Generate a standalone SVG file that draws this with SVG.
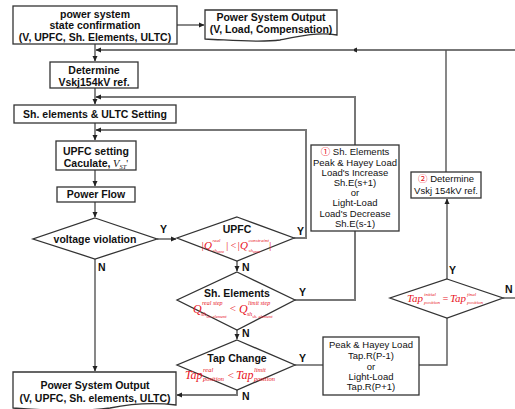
<svg xmlns="http://www.w3.org/2000/svg" width="515" height="409" viewBox="0 0 515 409">
<defs>
<marker id="ah" markerWidth="6" markerHeight="6" refX="5" refY="3" orient="auto" markerUnits="userSpaceOnUse">
<path d="M0,0.5 L5.5,3 L0,5.5 Z" fill="#222"/>
</marker>
<style>
.box{fill:#fff;stroke:#333;stroke-width:1.3}
.t{font-family:"Liberation Sans",Arial,sans-serif;font-size:10.5px;font-weight:bold;fill:#111;text-anchor:middle}
.s{font-family:"Liberation Sans",Arial,sans-serif;font-size:9.5px;fill:#111;text-anchor:middle}
.f{font-family:"Liberation Serif","Times New Roman",serif;font-style:italic;fill:#e8141e}
.c{fill:none;stroke:#555;stroke-width:1.4}
.g{fill:none;stroke:#777;stroke-width:2}
.a{marker-end:url(#ah)}
.yn{font-family:"Liberation Sans",Arial,sans-serif;font-size:10.5px;font-weight:bold;fill:#111}
.red{fill:#e8141e}
</style>
</defs>
<rect width="515" height="409" fill="#fff"/>

<g id="connectors">
<path class="c a" d="M177,25 H204"/>
<path class="c a" d="M95,44 V61"/>
<path class="g a" d="M515,50 H352"/>
<path class="g a" d="M354,50 H96"/>
<path class="c" d="M446,172 V50"/>
<path class="c a" d="M95,88 V104"/>
<path class="g a" d="M355,145 V97 H96"/>
<path class="c a" d="M95,123 V140"/>
<path class="g a" d="M294,238 H306 V130 H96"/>
<path class="c a" d="M95,170 V186"/>
<path class="c a" d="M95,202 V217"/>
<path class="c a" d="M157,239 H176"/>
<path class="c a" d="M95,259 V371"/>
<path class="c a" d="M237,261 V271"/>
<path class="g" d="M295,300 H355 V231"/>
<path class="c a" d="M237,330 V339"/>
<path class="g a" d="M237,390 V395 H177"/>
<path class="c" d="M295,365 H323"/>
<path class="c" d="M419,365 H447 V318"/>
<path class="c a" d="M447,279 V199"/>
<path class="c" d="M503,298 H515"/>
<text class="yn" x="160" y="233">Y</text>
<text class="yn" x="98" y="271">N</text>
<text class="yn" x="297" y="235">Y</text>
<text class="yn" x="242" y="271">N</text>
<text class="yn" x="299" y="296">Y</text>
<text class="yn" x="242" y="337">N</text>
<text class="yn" x="299" y="362">Y</text>
<text class="yn" x="242" y="400">N</text>
<text class="yn" x="449" y="274">Y</text>
<text class="yn" x="505" y="293">N</text>
</g>

<g id="state_confirmation">
<rect class="box" x="13" y="6" width="164" height="38"/>
<text class="t" x="95" y="18">power system</text>
<text class="t" x="95" y="29">state confirmation</text>
<text class="t" x="95" y="41">(V, UPFC, Sh. Elements, ULTC)</text>
</g>

<g id="output_top">
<path class="box" d="M205,10 H337 V35 C318,32 300,36 280,40 C258,43 230,40 205,39 Z"/>
<text class="t" x="271" y="21">Power System Output</text>
<text class="t" x="271" y="33">(V, Load, Compensation)</text>
</g>

<g id="determine1">
<rect class="box" x="50" y="62" width="88" height="26"/>
<text class="t" x="94" y="74">Determine</text>
<text class="t" x="94" y="86">Vskj154kV ref.</text>
</g>

<g id="sh_ultc_setting">
<rect class="box" x="14" y="105" width="162" height="18"/>
<text class="t" x="95" y="118">Sh. elements &amp; ULTC Setting</text>
</g>

<g id="upfc_setting">
<rect class="box" x="56" y="141" width="80" height="29"/>
<text class="t" x="96" y="167">Caculate,<tspan font-family="Liberation Serif,serif" font-style="italic" font-weight="normal"> V</tspan><tspan font-family="Liberation Serif,serif" font-style="italic" font-weight="normal" font-size="6.5" dy="2">ST</tspan><tspan font-family="Liberation Serif,serif" font-weight="normal" dy="-2">'</tspan></text>
<text class="t" x="96" y="155">UPFC setting</text>
</g>

<g id="power_flow">
<rect class="box" x="57" y="187" width="78" height="15"/>
<text class="t" x="96" y="198">Power Flow</text>
</g>

<g id="voltage_violation">
<polygon class="box" points="95,218 157,239 95,259 33,239"/>
<text class="t" x="95" y="243">voltage violation</text>
</g>

<g id="upfc_check">
<polygon class="box" points="237,217 294,238 237,261 177,238"/>
<text class="t" x="237" y="233">UPFC</text>
<text class="f" x="201" y="249" font-size="11">|Q<tspan x="212.5" y="242" font-size="5">real</tspan><tspan x="212.5" y="252" font-size="5">sh</tspan><tspan font-size="4" dy="1">unre</tspan><tspan x="225.5" y="249">|</tspan><tspan x="230" font-size="10">&lt;</tspan><tspan x="237">|Q</tspan><tspan x="248.5" y="242" font-size="5">constraint</tspan><tspan x="248.5" y="252" font-size="5">sh</tspan><tspan font-size="4" dy="1">unre</tspan><tspan x="268.5" y="249">|</tspan></text>
</g>

<g id="sh_elements_check">
<polygon class="box" points="237,272 295,300 237,330 177,300"/>
<text class="t" x="237" y="297">Sh. Elements</text>
<text class="f" x="193" y="313" font-size="12">Q<tspan x="202" y="305" font-size="6">real step</tspan><tspan x="201" y="316" font-size="6">sh</tspan><tspan font-size="4.5" dy="1.5">sh. element</tspan><tspan x="229" y="312" font-size="11">&lt;</tspan><tspan x="239" y="313">Q</tspan><tspan x="248" y="305" font-size="6">limit step</tspan><tspan x="247" y="316" font-size="6">sh</tspan><tspan font-size="4.5" dy="1.5">sh. element</tspan></text>
</g>

<g id="tap_change_check">
<polygon class="box" points="237,340 295,365 237,390 177,365"/>
<text class="t" x="237" y="362">Tap Change</text>
<text class="f" x="185" y="379" font-size="12">Tap<tspan x="203" y="372" font-size="6.5">real</tspan><tspan x="203" y="381" font-size="6.5">position</tspan><tspan x="227" y="379" font-size="11">&lt;</tspan><tspan x="236" y="379">Tap</tspan><tspan x="254" y="372" font-size="6.5">limit</tspan><tspan x="254" y="381" font-size="6.5">position</tspan></text>
</g>

<g id="sh_elements_box">
<rect class="box" x="311" y="145" width="88" height="86"/>
<text class="s" x="355" y="155"><tspan class="red" font-family="'Noto Sans CJK KR','DejaVu Sans',sans-serif">①</tspan> Sh. Elements</text>
<text class="s" x="355" y="166">Peak &amp; Hayey Load</text>
<text class="s" x="355" y="176">Load's Increase</text>
<text class="s" x="355" y="186">Sh.E(s+1)</text>
<text class="s" x="355" y="196">or</text>
<text class="s" x="355" y="206">Light-Load</text>
<text class="s" x="355" y="217">Load's Decrease</text>
<text class="s" x="355" y="227">Sh.E(s-1)</text>
</g>

<g id="tap_box">
<rect class="box" x="323" y="337" width="96" height="58"/>
<text class="s" x="371" y="348">Peak &amp; Hayey Load</text>
<text class="s" x="371" y="359">Tap.R(P-1)</text>
<text class="s" x="371" y="370">or</text>
<text class="s" x="371" y="380">Light-Load</text>
<text class="s" x="371" y="390">Tap.R(P+1)</text>
</g>

<g id="determine2">
<rect class="box" x="411" y="172" width="70" height="26"/>
<text class="s" x="446" y="182"><tspan class="red" font-family="'Noto Sans CJK KR','DejaVu Sans',sans-serif">②</tspan> Determine</text>
<text class="s" x="446" y="194">Vskj 154kV ref.</text>
</g>

<g id="tap_equal_check">
<polygon class="box" points="447,279 503,298 447,318 390,298"/>
<text class="f" x="407" y="302" font-size="11">Tap<tspan x="424" y="296" font-size="5">initial</tspan><tspan x="424" y="304" font-size="5">position</tspan><tspan x="442" y="302" font-size="10">=</tspan><tspan x="450" y="302">Tap</tspan><tspan x="467" y="296" font-size="5">final</tspan><tspan x="467" y="304" font-size="5">position</tspan></text>
</g>

<g id="output_bottom">
<path class="box" d="M13,372 H176 V405 C150,402 130,404 110,408 C80,412 40,410 13,408 Z"/>
<text class="t" x="95" y="389">Power System Output</text>
<text class="t" x="95" y="402">(V, UPFC, Sh. elements, ULTC)</text>
</g>
</svg>
